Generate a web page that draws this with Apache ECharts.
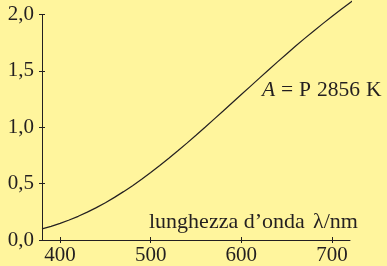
<!DOCTYPE html>
<html>
<head>
<meta charset="utf-8">
<script src="https://cdn.jsdelivr.net/npm/echarts@6/dist/echarts.min.js"></script>
<style>
  html, body { margin: 0; padding: 0; background: #fff59d; }
  #app { width: 387px; height: 266px; }
</style>
</head>
<body>
<div id="app"></div>
<script>
// lunghezze d'onda (nm) e potenza spettrale relativa dell'illuminante A
var wavelengths = [380, 390, 400, 410, 420, 430, 440, 450, 460, 470, 480, 490, 500, 510, 520, 530, 540, 550,
                   560, 570, 580, 590, 600, 610, 620, 630, 640, 650, 660, 670, 680, 690, 700, 710, 720, 730];
var power = [0.098, 0.121, 0.147, 0.177, 0.210, 0.247, 0.287, 0.331, 0.378, 0.429, 0.482, 0.539, 0.599, 0.661,
             0.725, 0.791, 0.859, 0.929, 1.000, 1.072, 1.144, 1.217, 1.290, 1.363, 1.436, 1.508, 1.580, 1.650,
             1.720, 1.788, 1.854, 1.919, 1.983, 2.044, 2.104, 2.161];
var xTicks = [400, 500, 600, 700];

var ink = '#231f20';
var fontName = 'Liberation Serif';

var el = document.getElementById('app');
var myChart = echarts.init(el);

var points = wavelengths.map(function (w, i) { return [w, power[i]]; });

// due assi per lato: uno con tacche esterne, uno con tacche interne (tacche "a croce")
var xAxisDef = function (inside, show) {
    return {
        type: 'value', min: 380, max: 720, position: 'bottom',
        axisLine: { show: show, onZero: false, lineStyle: { color: ink, width: 1 } },
        axisTick: { show: true, inside: inside, length: 3, customValues: xTicks, lineStyle: { color: ink } },
        axisLabel: {
            show: show, color: ink, fontFamily: fontName, fontSize: 21, margin: 5,
            customValues: xTicks
        },
        splitLine: { show: false }
    };
};
var yAxisDef = function (inside, show) {
    return {
        type: 'value', min: 0, max: 2, interval: 0.5, position: 'left',
        axisLine: { show: show, onZero: false, lineStyle: { color: ink, width: 1 } },
        axisTick: { show: true, inside: inside, length: 3, lineStyle: { color: ink } },
        axisLabel: {
            show: show, color: ink, fontFamily: fontName, fontSize: 21, margin: 8,
            formatter: function (v) { return v.toFixed(1).replace('.', ','); }
        },
        splitLine: { show: false }
    };
};

var label = function (txt, x, y, size, italic) {
    return {
        type: 'text', left: x, top: y,
        style: { text: txt, fill: ink, fontFamily: fontName, fontSize: size, fontStyle: italic ? 'italic' : 'normal' }
    };
};

var option = {
    backgroundColor: '#fff59d',
    animation: false,
    textStyle: { fontFamily: fontName },
    grid: { left: 42, right: 37, top: 14.5, bottom: 26 },
    xAxis: [xAxisDef(false, true), xAxisDef(true, false)],
    yAxis: [yAxisDef(false, true), yAxisDef(true, false)],
    series: [{
        type: 'line',
        data: points,
        showSymbol: false,
        clip: false,
        lineStyle: { color: ink, width: 1.2 }
    }],
    graphic: [
        label('lunghezza d\u2019onda', 149, 211, 22),
        label('\u03bb/nm', 313, 211, 22),
        label('A', 262, 79, 21.5, true),
        label('=', 281, 79, 21.5),
        label('P', 299, 79, 21.5),
        label('2856', 317, 79, 21.5),
        label('K', 366, 79, 21.5)
    ]
};
myChart.setOption(option);
</script>
</body>
</html>
